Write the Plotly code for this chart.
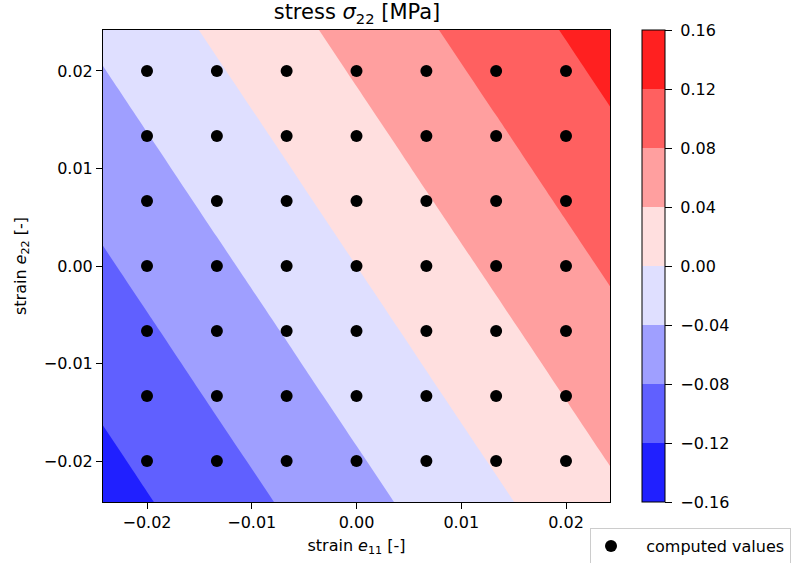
import plotly.graph_objects as go

# strain grid (contour grid includes the plot edges)
e11_grid = [-0.0242, -0.02, -0.01333, -0.00667, 0.0, 0.00667, 0.01333, 0.02, 0.0242]
e22_grid = [-0.0242, -0.02, -0.01333, -0.00667, 0.0, 0.00667, 0.01333, 0.02, 0.0242]

# stress sigma_22 [MPa], rows = e22, cols = e11
sigma22 = [
    [-0.1370, -0.1223, -0.0990, -0.0758, -0.0525, -0.0292, -0.0060, 0.0173, 0.0320],
    [-0.1279, -0.1132, -0.0899, -0.0667, -0.0434, -0.0201, 0.0031, 0.0264, 0.0411],
    [-0.1134, -0.0987, -0.0754, -0.0522, -0.0289, -0.0056, 0.0176, 0.0409, 0.0556],
    [-0.0990, -0.0843, -0.0610, -0.0378, -0.0145, 0.0088, 0.0320, 0.0553, 0.0700],
    [-0.0845, -0.0698, -0.0465, -0.0233, 0.0000, 0.0233, 0.0465, 0.0698, 0.0845],
    [-0.0700, -0.0553, -0.0320, -0.0088, 0.0145, 0.0378, 0.0610, 0.0843, 0.0990],
    [-0.0556, -0.0409, -0.0176, 0.0056, 0.0289, 0.0522, 0.0754, 0.0987, 0.1134],
    [-0.0411, -0.0264, -0.0031, 0.0201, 0.0434, 0.0667, 0.0899, 0.1132, 0.1279],
    [-0.0320, -0.0173, 0.0060, 0.0292, 0.0525, 0.0758, 0.0990, 0.1223, 0.1370],
]

# computed sample points
pts_e11 = [-0.02, -0.01333, -0.00667, 0.0, 0.00667, 0.01333, 0.02]
pts_e22 = [-0.02, -0.01333, -0.00667, 0.0, 0.00667, 0.01333, 0.02]

levels = [-0.16, -0.12, -0.08, -0.04, 0.0, 0.04, 0.08, 0.12, 0.16]
level_labels = ["\u22120.16", "\u22120.12", "\u22120.08", "\u22120.04", "0.00",
                "0.04", "0.08", "0.12", "0.16"]
band_colors = ["rgb(32,32,255)", "rgb(96,96,255)", "rgb(159,159,255)", "rgb(223,223,255)",
               "rgb(255,223,223)", "rgb(255,159,159)", "rgb(255,96,96)", "rgb(255,32,32)"]

x_ticks = [-0.02, -0.01, 0.0, 0.01, 0.02]
x_tick_labels = ["\u22120.02", "\u22120.01", "0.00", "0.01", "0.02"]

n = len(band_colors)
# colorscale for the contour fills (plotly evaluates at band centres over [start-size/2, end+size/2])
nb = n + 1
cs_fill = []
for i, c in enumerate(band_colors):
    lo = 0.0 if i == 0 else (i + 0.5) / nb
    hi = 1.0 if i == n - 1 else (i + 1.5) / nb
    cs_fill.append([lo, c])
    cs_fill.append([hi, c])

# stepped colorscale for the colorbar (exact range -0.16 .. 0.16)
cs_bar = []
for i, c in enumerate(band_colors):
    cs_bar.append([i / n, c])
    cs_bar.append([(i + 1) / n, c])

FONT = "DejaVu Sans"
L, R, T, B = 103, 190, 30, 61
PW, PH = 800 - L - R, 563 - T - B

fig = go.Figure()
fig.add_trace(go.Contour(
    x=e11_grid, y=e22_grid, z=sigma22,
    autocontour=False,
    contours=dict(start=levels[0], end=levels[-1], size=0.04, coloring="fill", showlines=False),
    line=dict(width=0),
    colorscale=cs_fill,
    showscale=False,
    showlegend=False,
    hoverinfo="skip",
))

# colorbar carrier
fig.add_trace(go.Scatter(
    x=[None], y=[None], mode="markers", showlegend=False, hoverinfo="skip",
    marker=dict(
        color=[0], colorscale=cs_bar, cmin=levels[0], cmax=levels[-1], showscale=True,
        colorbar=dict(
            x=(641.5 - L) / PW, xanchor="left", xpad=0, ypad=0,
            y=0.5, yanchor="middle", len=1, lenmode="fraction",
            thickness=23, outlinewidth=1, outlinecolor="black",
            tickvals=levels, ticktext=["\u00a0" + t for t in level_labels],
            ticks="outside", ticklen=7, tickcolor="black",
            tickfont=dict(family=FONT, size=16, color="black"),
        ),
    ),
))

px, py = [], []
for yv in pts_e22:
    for xv in pts_e11:
        px.append(xv)
        py.append(yv)

fig.add_trace(go.Scatter(
    x=px, y=py, mode="markers",
    marker=dict(color="black", size=12),
    name="\u00a0\u00a0\u00a0computed values",
    hoverinfo="skip",
))

axis_common = dict(
    showgrid=False, zeroline=False, showline=True, linecolor="black", linewidth=1,
    mirror=True, ticks="outside", ticklen=6, tickcolor="black",
    tickfont=dict(family=FONT, size=16, color="black"),
)

fig.update_layout(
    width=800, height=563,
    margin=dict(l=L, r=R, t=T, b=B, autoexpand=False),
    paper_bgcolor="white", plot_bgcolor="white",
    font=dict(family=FONT, size=16, color="black"),
    title=dict(text="stress <i>σ</i><sub>22</sub> [MPa]", x=357 / 800, xanchor="center",
               y=1 - 12 / 563, yanchor="middle", font=dict(family=FONT, size=21, color="black")),
    xaxis=dict(range=[-0.0242, 0.0242], tickvals=x_ticks, ticktext=x_tick_labels,
               title=dict(text="strain <i>e</i><sub>11</sub> [-]", standoff=8,
                          font=dict(family=FONT, size=16)),
               **axis_common),
    yaxis=dict(range=[-0.0242, 0.0242], tickvals=x_ticks, ticktext=x_tick_labels,
               title=dict(text="strain <i>e</i><sub>22</sub> [-]", standoff=13,
                          font=dict(family=FONT, size=16)),
               **axis_common),
    showlegend=True,
    legend=dict(x=(590 - L) / PW, y=-26 / PH, xanchor="left", yanchor="top",
                bordercolor="#cccccc", borderwidth=1, bgcolor="white",
                font=dict(family=FONT, size=16, color="black")),
)

fig.write_html("out.html", post_script="document.body.style.margin='0';",
               config={"displayModeBar": False})
